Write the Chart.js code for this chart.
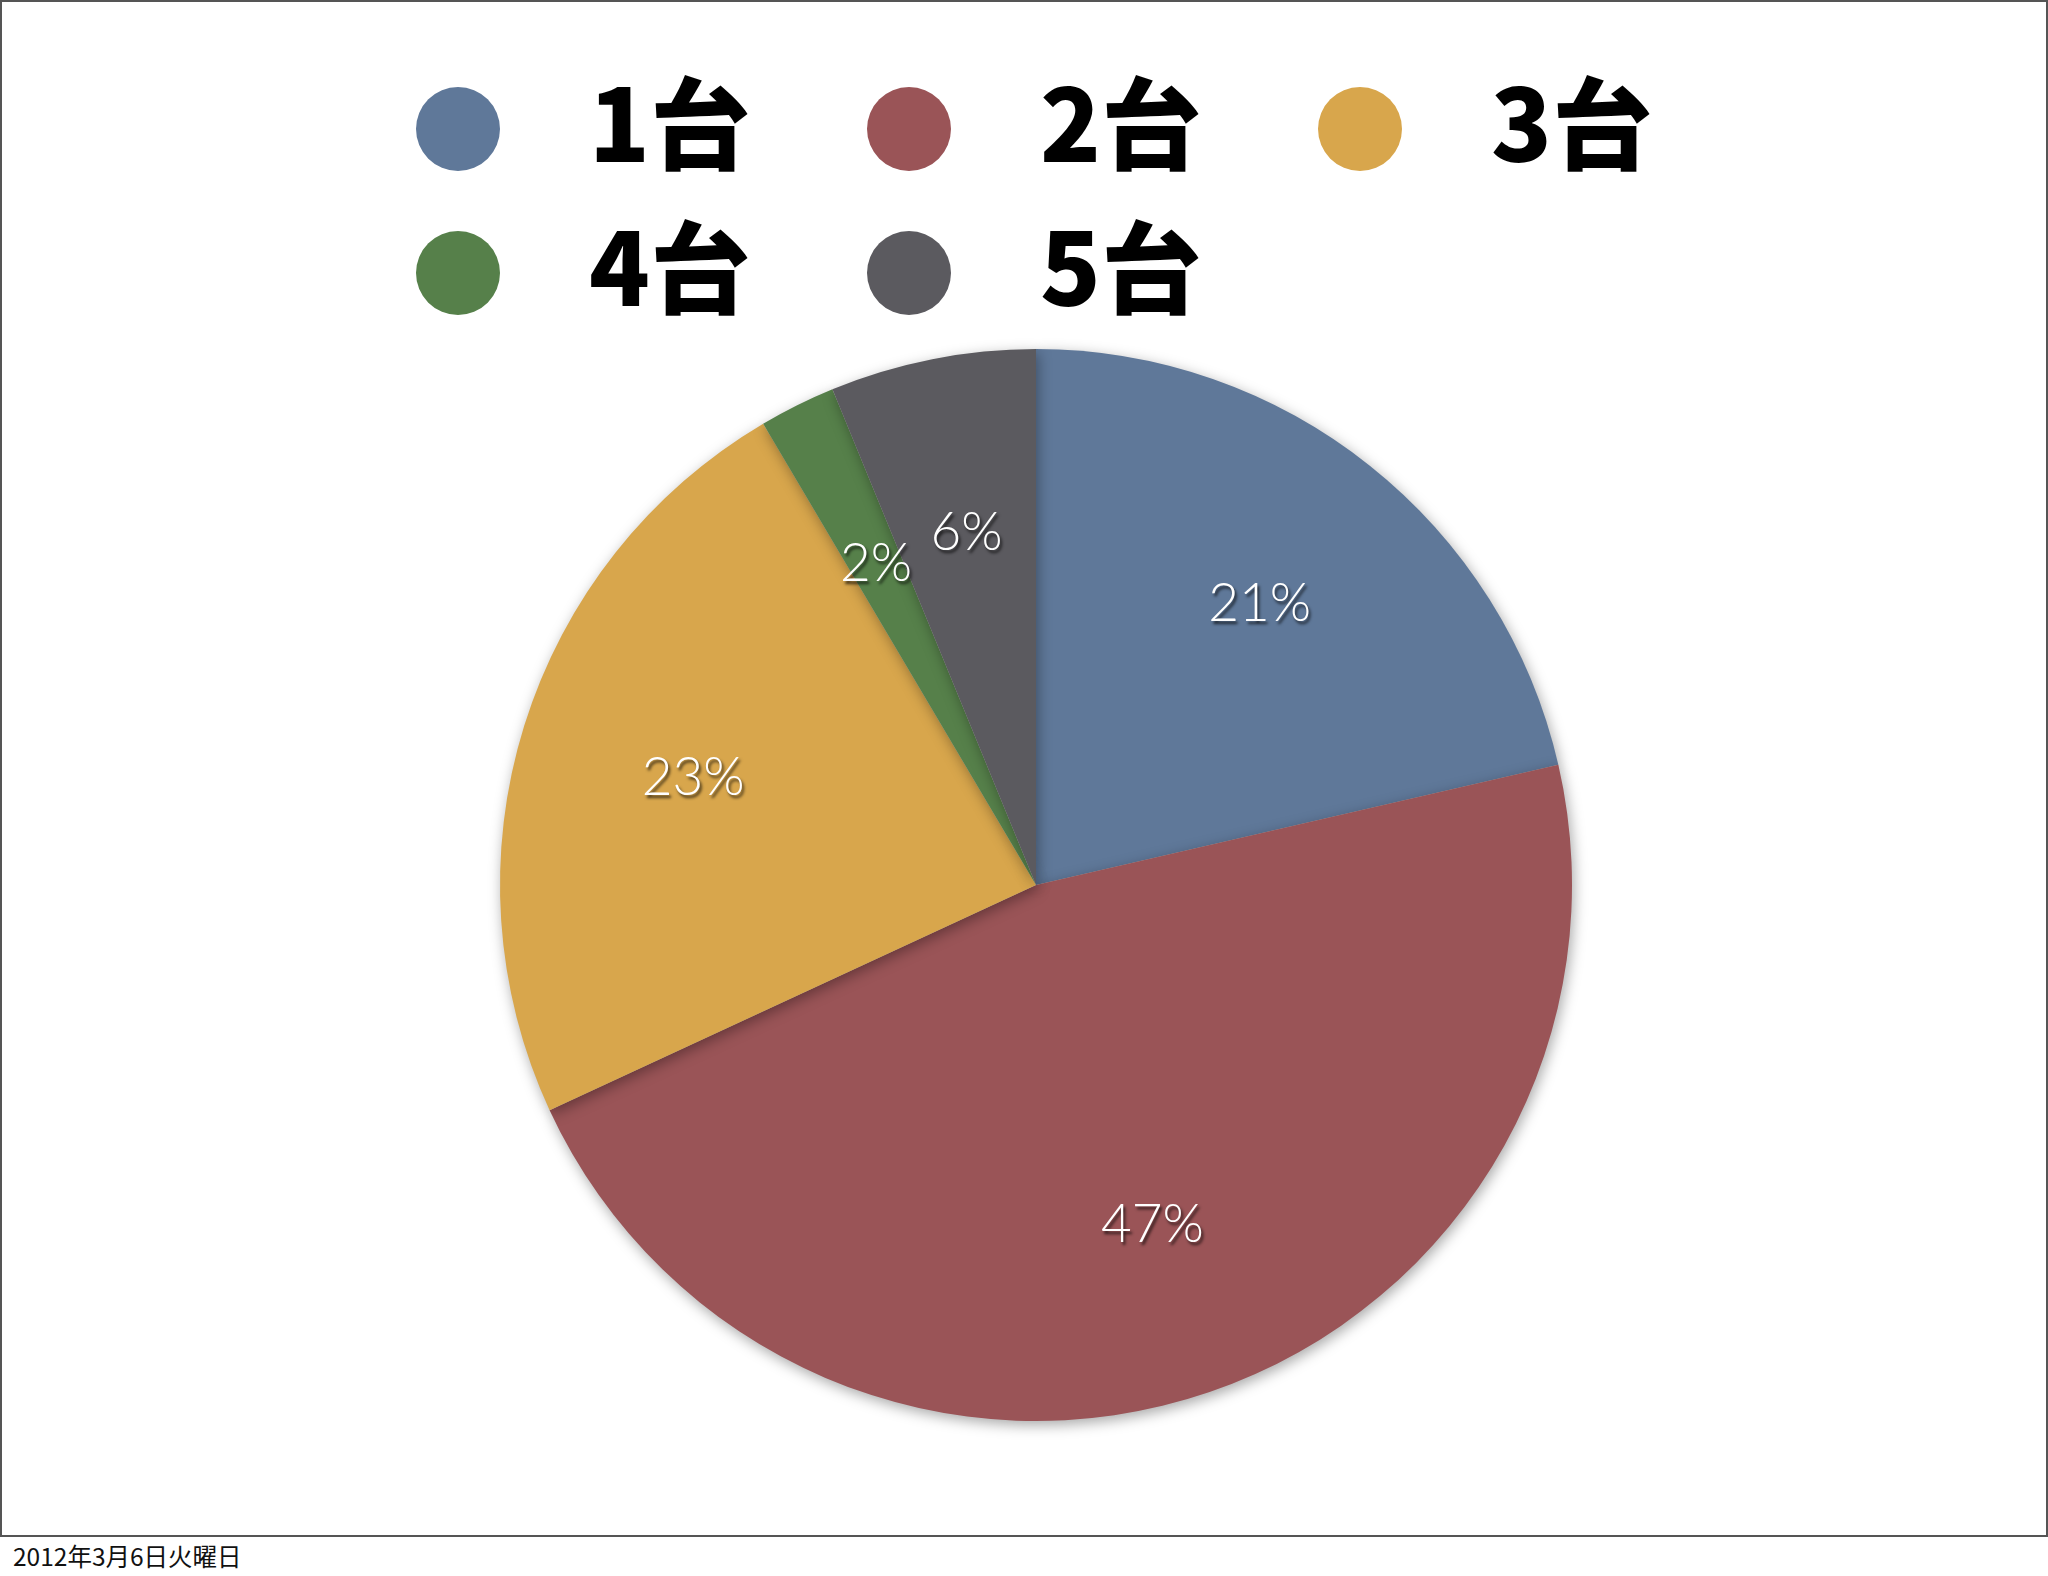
<!DOCTYPE html>
<html>
<head>
<meta charset="utf-8">
<script src="https://cdn.jsdelivr.net/npm/chart.js@4"></script>
<style>
  body { margin: 0; background: #fff; }
  #page { position: relative; width: 2048px; height: 1576px; }
  #frame {
    position: absolute; left: 0; top: 0; width: 2048px; height: 1537px;
    border: 2px solid #555; box-sizing: border-box;
  }
  #pie { position: absolute; left: 0; top: 0; }
  #legend { position: absolute; left: 0; top: 0; }
  .item {
    position: absolute; display: flex; align-items: center; height: 100px;
    white-space: nowrap;
  }
  .dot { flex: 0 0 84px; width: 84px; height: 84px; border-radius: 50%; margin-right: 89px; }
  .txt {
    position: relative; top: -10px;
    font-family: "Noto Sans CJK JP", sans-serif; font-weight: 900;
    font-size: 100px; line-height: 100px; color: #000;
  }
  #date {
    position: absolute; left: 13px; top: 1538px; white-space: nowrap;
    font-family: "Noto Sans CJK JP", sans-serif; font-size: 24.5px; color: #111;
  }
</style>
</head>
<body>
<div id="page">
  <div id="frame"></div>
  <canvas id="pie" width="2048" height="1536"></canvas>
  <div id="legend"></div>
  <div id="date">2012年3月6日火曜日</div>
</div>
<script>
// data (share of each slice, %)
const labels = ['1台', '2台', '3台', '4台', '5台'];
const shares = [21.4, 46.7, 23.4, 2.3, 6.2];
const colors = ['#5f7899', '#9a5457', '#d8a64c', '#56804a', '#5b5a5f'];

// html legend: 3 per row, left aligned
const legend = document.getElementById('legend');
labels.forEach(function (lab, i) {
    const item = document.createElement('div');
    item.className = 'item';
    item.style.left = (416 + (i % 3) * 451) + 'px';
    item.style.top = (79 + Math.floor(i / 3) * 144) + 'px';
    item.innerHTML = '<div class="dot" style="background:' + colors[i] + '"></div><span class="txt">' + lab + '</span>';
    legend.appendChild(item);
});

// soft shadow under the slices
const shadowPlugin = {
    id: 'pieShadow',
    beforeDatasetsDraw(chart) {
        const ctx = chart.ctx;
        ctx.save();
        ctx.shadowColor = 'rgba(0,0,0,0.35)';
        ctx.shadowBlur = 14;
        ctx.shadowOffsetX = 2;
        ctx.shadowOffsetY = 4;
    },
    afterDatasetsDraw(chart) {
        chart.ctx.restore();
    }
};

// percent labels inside slices
const pctPlugin = {
    id: 'pctLabels',
    afterDatasetsDraw(chart) {
        const ctx = chart.ctx;
        const data = chart.data.datasets[0].data;
        const total = data.reduce((a, b) => a + b, 0);
        const meta = chart.getDatasetMeta(0);
        ctx.save();
        ctx.font = '300 53px "Helvetica Neue", Lato, Roboto, "Open Sans", sans-serif';
        ctx.fillStyle = '#fff';
        ctx.textAlign = 'center';
        ctx.textBaseline = 'middle';
        ctx.shadowColor = 'rgba(0,0,0,0.7)';
        ctx.shadowBlur = 3;
        ctx.shadowOffsetX = 2;
        ctx.shadowOffsetY = 3;
        meta.data.forEach(function (arc, i) {
            const p = arc.getProps(['x', 'y', 'startAngle', 'endAngle', 'outerRadius'], true);
            const mid = (p.startAngle + p.endAngle) / 2;
            const r = p.outerRadius * 0.67;
            const txt = Math.round(data[i] / total * 100) + '%';
            ctx.fillText(txt, p.x + Math.cos(mid) * r, p.y + Math.sin(mid) * r);
        });
        ctx.restore();
    }
};

new Chart(document.getElementById('pie').getContext('2d'), {
    type: 'pie',
    data: {
        labels: labels,
        datasets: [{
            data: shares,
            backgroundColor: colors,
            borderWidth: 0
        }]
    },
    options: {
        responsive: false,
        animation: false,
        layout: { padding: { left: 24, right: 0, top: 349, bottom: 115 } },
        plugins: {
            legend: { display: false },
            tooltip: { enabled: false }
        }
    },
    plugins: [shadowPlugin, pctPlugin]
});
</script>
</body>
</html>
